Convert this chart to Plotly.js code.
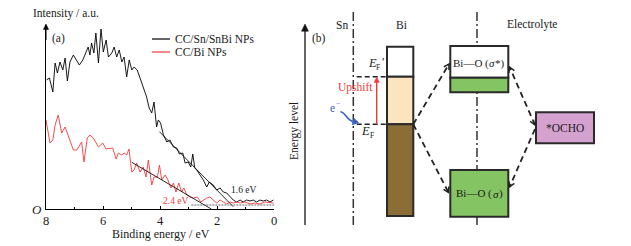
<!DOCTYPE html>
<html><head><meta charset="utf-8">
<script src="https://cdn.plot.ly/plotly-3.0.1.min.js"></script>
<style>html,body{margin:0;padding:0;background:#fff}#chart{width:631px;height:246px}</style>
</head><body><div id="chart"></div>
<script>
// ---- Data for panel (a): valence band spectra (binding energy in eV, intensity in a.u.) ----
const snbiEnergy = [7.98,7.88,7.76,7.68,7.60,7.51,7.41,7.33,7.25,7.16,7.04,6.92,6.83,6.71,6.61,6.52,6.46,6.40,6.32,6.25,6.16,6.07,5.99,5.89,5.81,5.69,5.61,5.52,5.43,5.34,5.26,5.17,5.08,4.99,4.91,4.80,4.70,4.59,4.47,4.38,4.29,4.21,4.12,4.06,3.98,3.88,3.76,3.65,3.53,3.41,3.32,3.20,3.12,3.01,2.92,2.85,2.78,2.71,2.60,2.48,2.36,2.27,2.13,2.01,1.89,1.78,1.66,1.54,1.43,1.31,1.19,1.08,0.96,0.84,0.73,0.61,0.49,0.38,0.26,0.14,0.02];
const snbiIntensity = [129,131,117,146,136,147,139,151,128,147,154,149,144,149,156,162,154,166,156,176,146,180,157,169,152,156,162,152,159,147,152,132,149,139,142,139,131,121,112,101,96,107,82,89,86,74,67,69,62,61,55,56,46,47,42,55,41,39,34,29,22,27,24,19,21,17,16,12,9,7,9,7,9,8,9,7,9,8,9,7,9];
const biEnergy = [8.00,7.86,7.76,7.68,7.57,7.45,7.33,7.22,7.04,6.92,6.75,6.67,6.55,6.46,6.34,6.16,6.01,5.89,5.75,5.66,5.54,5.46,5.34,5.26,5.17,5.09,4.99,4.91,4.82,4.70,4.59,4.49,4.41,4.29,4.21,4.09,4.02,3.94,3.82,3.72,3.62,3.53,3.44,3.34,3.24,3.16,3.06,2.95,2.83,2.69,2.57,2.46,2.36,2.25,2.13,2.01,1.89,1.78,1.66,1.54,1.43,1.31,1.19,1.02,0.84,0.67,0.49,0.32,0.14,0.02];
const biIntensity = [89,66,69,84,94,76,82,74,59,59,67,47,71,74,71,62,66,60,61,61,50,56,54,56,54,60,37,39,46,37,42,32,49,24,32,32,44,29,34,29,21,26,17,26,17,21,14,12,11,12,7,9,11,12,9,6,9,7,5,7,6,7,6,7,5,6,5,7,6,6];
const snbiFitEnergy = [4.02, 1.43];
const snbiFitIntensity = [77.3, 2.3];
const biFitEnergy = [4.99, 2.20];
const biFitIntensity = [46.7, 0];
const baselineEnergy = [2.9, 0];
const baselineIntensity = [4, 4];
const xTickVals = [8, 6, 4, 2, 0];
const xMinorVals = [7, 5, 3, 1];
const seriesNames = ['CC/Sn/SnBi NPs', 'CC/Bi NPs'];
const gapLabels = ['1.6 eV', '2.4 eV'];

// ---- layout helpers (pixel -> paper) ----
const W = 631, H = 246;
const P = px => px / W, Q = py => 1 - py / H;
const FONT = 'Liberation Serif';
const INK = '#1a1a1a';

const traces = [
  {x: snbiEnergy, y: snbiIntensity, name: seriesNames[0], mode: 'lines', line: {color: '#000', width: 0.9}},
  {x: biEnergy, y: biIntensity, name: seriesNames[1], mode: 'lines', line: {color: '#f23b3b', width: 0.9}},
  {x: snbiFitEnergy, y: snbiFitIntensity, mode: 'lines', line: {color: '#111', width: 0.9}, showlegend: false},
  {x: biFitEnergy, y: biFitIntensity, mode: 'lines', line: {color: '#111', width: 0.9}, showlegend: false},
  {x: baselineEnergy, y: baselineIntensity, mode: 'lines', line: {color: '#666', width: 1, dash: '2px,1px'}, showlegend: false}
];

const shapes = [];
const ann = [];
function rect(x0, y0, x1, y1, fill, lw) {
  shapes.push({type: 'rect', xref: 'paper', yref: 'paper', x0: P(x0), x1: P(x1), y0: Q(y0), y1: Q(y1),
    fillcolor: fill, line: {color: '#2a2a2a', width: lw || 2}, layer: 'above'});
}
function line(x0, y0, x1, y1, color, width, dash) {
  shapes.push({type: 'line', xref: 'paper', yref: 'paper', x0: P(x0), x1: P(x1), y0: Q(y0), y1: Q(y1),
    line: {color: color, width: width, dash: dash || 'solid'}, layer: 'above'});
}
function path(d, color, width, fill) {
  shapes.push({type: 'path', xref: 'paper', yref: 'paper', path: d, line: {color: color, width: width},
    fillcolor: fill || 'rgba(0,0,0,0)', layer: 'above'});
}
function pt(x, y) { return P(x) + ',' + Q(y); }
function headPts(xf, yf, xt, yt, size, ang) {
  const dx = xt - xf, dy = yt - yf, L = Math.hypot(dx, dy), ux = dx / L, uy = dy / L;
  const c = Math.cos(ang), s = Math.sin(ang);
  return [[xt - size * (ux * c - uy * s), yt - size * (uy * c + ux * s)],
          [xt - size * (ux * c + uy * s), yt - size * (uy * c - ux * s)]];
}
function chevron(xf, yf, xt, yt, size, color, width) {
  const h = headPts(xf, yf, xt, yt, size, Math.PI / 6);
  path('M' + pt(h[0][0], h[0][1]) + ' L' + pt(xt, yt) + ' L' + pt(h[1][0], h[1][1]), color, width);
}
function solidArrow(x0, y0, x1, y1, color, width, size) {
  const h = headPts(x0, y0, x1, y1, size, Math.PI / 7);
  const L = Math.hypot(x1 - x0, y1 - y0), k = (L - size * 0.8) / L;
  line(x0, y0, x0 + (x1 - x0) * k, y0 + (y1 - y0) * k, color, width);
  path('M' + pt(x1, y1) + ' L' + pt(h[0][0], h[0][1]) + ' L' + pt(h[1][0], h[1][1]) + ' Z', color, 0.5, color);
}
function dashedArrow(x0, y0, x1, y1, headEnd, headStart) {
  line(x0, y0, x1, y1, '#222', 1.8, '6px,4px');
  if (headEnd) chevron(x0, y0, x1, y1, 6, '#222', 1.5);
  if (headStart) chevron(x1, y1, x0, y0, 6, '#222', 1.5);
}
function text(t, x, y, size, color, opts, italic) {
  const f = {family: FONT, size: size, color: color || INK};
  if (italic) f.style = 'italic';
  ann.push(Object.assign({text: t, xref: 'paper', yref: 'paper', x: P(x), y: Q(y), showarrow: false,
    xanchor: 'center', yanchor: 'middle', font: f}, opts || {}));
}
const TIGHT = {borderpad: 0, borderwidth: 0};
const TL = Object.assign({xanchor: 'left'}, TIGHT), TR = Object.assign({xanchor: 'right'}, TIGHT);

// ---- panel (a) decorations ----
solidArrow(46, 40, 46, 24, '#000', 1, 6);
text('Intensity / a.u.', 66, 13, 11.5);
text('(a)', 58.5, 38.5, 11.5);
text('O', 37, 209, 13, INK, null, true);
text('Binding energy / eV', 161, 233.5, 12);
line(152, 39, 170, 39, '#000', 1.2);
line(152, 52, 170, 52, '#f23b3b', 1.2);
text(seriesNames[0], 172.5, 39, 11.5, INK, {xanchor: 'left'});
text(seriesNames[1], 172.5, 52, 11.5, INK, {xanchor: 'left'});
text(gapLabels[0], 243.5, 189.5, 9.5, INK);
text(gapLabels[1], 175, 201, 9.5, '#f23b3b');

// ---- panel (b): schematic ----
solidArrow(305, 225, 305, 24, '#111', 1.3, 8);
text('Energy level', 294, 131, 11.5, INK, {textangle: -90});
text('(b)', 319, 38.5, 11.5);
text('Sn', 342, 25, 11.5);
text('Bi', 401, 25, 11.5);
text('Electrolyte', 532, 25, 11.5);
line(353.3, 12, 353.3, 225, '#333', 1.5, '9px,3px,2px,3px');
line(477, 12, 477, 225, '#333', 1.5, '9px,3px,2px,3px');
// Bi band column
rect(387, 46.7, 413.3, 76.7, '#ffffff');
rect(387, 76.7, 413.3, 124.3, '#fae5be');
rect(387, 124.3, 413.3, 216, '#8b6d36');
// Fermi levels
line(356.7, 76.7, 387, 76.7, '#222', 1.6, '5px,3px');
line(356.7, 124.3, 387, 124.3, '#222', 1.6, '5px,3px');
text('E', 372, 63, 12.5, INK, null, true);
text('F', 378.3, 67.5, 7.5);
text('\u2032', 383.5, 61.5, 12);
text('E', 366, 131, 12.5, INK, null, true);
text('F', 372.3, 135.5, 7.5);
solidArrow(376.7, 124.3, 376.7, 77, '#f03a3a', 1.4, 6);
text('Upshift', 356, 87.5, 11.5, '#f03a3a');
text('e', 332, 107.5, 11.5, '#3a62c4');
text('\u2212', 337.8, 103.5, 7.5, '#3a62c4');
path('M' + pt(340.5, 111.5) + ' C' + pt(347, 113) + ' ' + pt(346, 121) + ' ' + pt(355, 122), '#3a62c4', 1.6);
path('M' + pt(358.5, 122.6) + ' L' + pt(352.5, 124.6) + ' L' + pt(354.2, 118.7) + ' Z', '#3a62c4', 1, '#3a62c4');
// Bi-O orbitals and adsorbate
rect(450.3, 46, 508.3, 77.7, '#ffffff');
rect(450.3, 77.7, 508.3, 92.3, '#84c462');
rect(450.3, 170, 508.3, 216.7, '#84c462');
rect(536, 112.3, 594, 143.3, '#d5a2cf');
text('Bi\u2014O (', 488.6, 63, 11, INK, TR);
text('\u03c3', 488.8, 63, 11, INK, TL, true);
text('*)', 495.2, 63, 11, INK, TL);
text('Bi\u2014O (', 492.4, 193.5, 11, INK, TR);
text('\u03c3', 492.6, 193.5, 11, INK, TL, true);
text(')', 499, 193.5, 11, INK, TL);
text('*OCHO', 565, 128, 11.5);
dashedArrow(413.3, 124.3, 449, 64, true, false);
dashedArrow(413.3, 124.3, 448.5, 192.5, true, false);
dashedArrow(535, 125, 509.5, 67, true, true);
dashedArrow(535, 129, 509.5, 187, true, false);

const layout = {
  width: W, height: H, margin: {l: 0, r: 0, t: 0, b: 0},
  paper_bgcolor: '#fff', plot_bgcolor: 'rgba(0,0,0,0)', showlegend: false,
  font: {family: FONT, color: INK},
  xaxis: {domain: [P(46), P(274)], range: [8, 0], showgrid: false, zeroline: false, showline: true,
    linecolor: '#000', linewidth: 1, ticks: 'inside', ticklen: 3, tickcolor: '#000', tickvals: xTickVals,
    minor: {tickvals: xMinorVals, ticks: 'inside', ticklen: 2, tickcolor: '#000'},
    tickfont: {family: FONT, size: 12.5, color: INK}, fixedrange: true},
  yaxis: {domain: [Q(209), Q(25)], range: [0, 184], showgrid: false, zeroline: false, showline: true,
    linecolor: '#000', linewidth: 1, ticks: '', showticklabels: false, fixedrange: true},
  shapes: shapes, annotations: ann
};
Plotly.newPlot('chart', traces, layout, {staticPlot: true, displayModeBar: false});
</script></body></html>
